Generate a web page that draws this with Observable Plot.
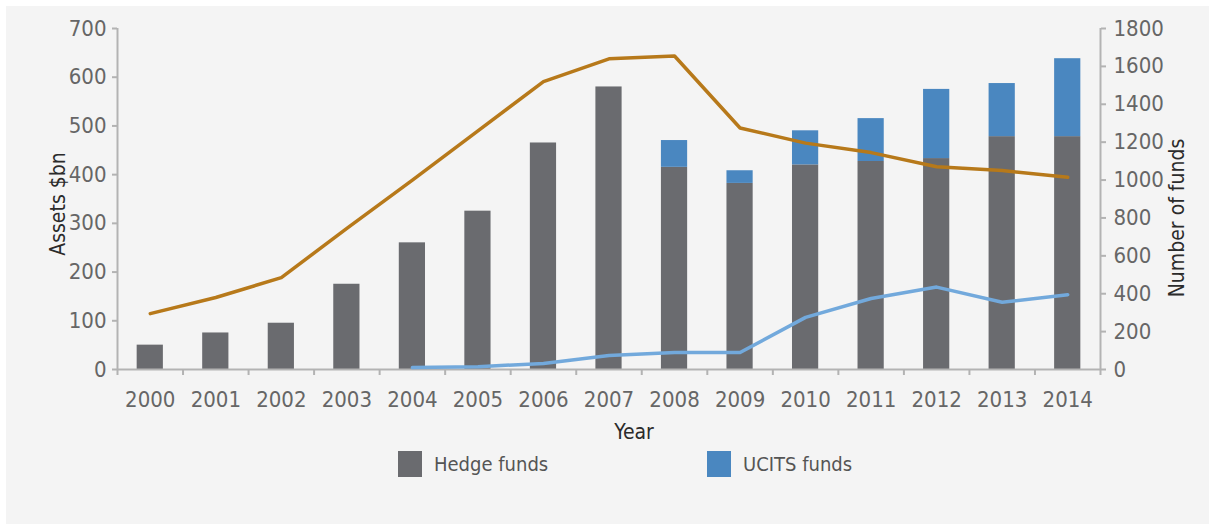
<!DOCTYPE html>
<html>
<head>
<meta charset="utf-8">
<script src="https://cdn.jsdelivr.net/npm/d3@7"></script>
<script src="https://cdn.jsdelivr.net/npm/@observablehq/plot@0.6"></script>
<style>
  html, body { margin: 0; padding: 0; background: #ffffff; }
  #panel { position: absolute; left: 6px; top: 6px; width: 1203px; height: 518px; background: #f4f4f4;
           font-family: "Liberation Sans Narrow", "DejaVu Sans Condensed", "DejaVu Sans", sans-serif; }
  #chart { position: absolute; left: 0; top: 0; }
  .legend { position: absolute; top: 445px; left: 0; width: 100%; height: 30px; }
  .item { position: absolute; top: 0; display: flex; align-items: center; font-size: 20px; color: #555555; }
  .sw { width: 24px; height: 26px; margin-right: 12px; }
</style>
</head>
<body>
<div id="panel">
  <div id="chart"></div>
  <div class="legend">
    <div class="item" style="left:392px"><div class="sw" style="background:#6a6b6f"></div><span>Hedge funds</span></div>
    <div class="item" style="left:701px"><div class="sw" style="background:#4a87c0"></div><span>UCITS funds</span></div>
  </div>
</div>
<script>
const years = [2000, 2001, 2002, 2003, 2004, 2005, 2006, 2007, 2008, 2009, 2010, 2011, 2012, 2013, 2014];
const hedgeAssets = [50, 75, 95, 175, 260, 325, 465, 580, 415, 382, 420, 427, 433, 478, 478];
const ucitsAssets = [0, 0, 0, 0, 0, 0, 0, 0, 55, 26, 70, 88, 142, 109, 160];
const hedgeFundCount = [295, 380, 485, 745, 1000, 1260, 1520, 1640, 1655, 1275, 1195, 1145, 1070, 1050, 1015];
const ucitsFundCount = [null, null, null, null, 10, 15, 32, 74, 90, 90, 275, 375, 435, 355, 395];
const assetTicks = [0, 100, 200, 300, 400, 500, 600, 700];
const countTicks = [0, 200, 400, 600, 800, 1000, 1200, 1400, 1600, 1800];

const assetMax = 700, countMax = 1800;
const toAsset = v => v * assetMax / countMax;
const barHalf = 0.2;
const xDomain = [years[0] - 0.5, years[years.length - 1] + 0.5];
const boundaries = d3.range(xDomain[0], xDomain[1] + 0.01, 1);

const rows = years.map((year, i) => ({
  year, hedge: hedgeAssets[i], ucits: ucitsAssets[i],
  hedgeN: hedgeFundCount[i], ucitsN: ucitsFundCount[i]
}));
const ucitsLineRows = rows.filter(d => d.ucitsN != null);

const axisColor = "#b3b3b3";
const labelColor = "#666666";
const titleColor = "#2b2b2b";
const titleStyle = { fill: titleColor, fontSize: 21, textAnchor: "middle", lineAnchor: "middle" };

const chart = Plot.plot({
  width: 1203,
  height: 450,
  marginLeft: 111,
  marginRight: 109,
  marginTop: 22,
  marginBottom: 87,
  style: { background: "transparent", fontFamily: "'Liberation Sans Narrow', 'DejaVu Sans Condensed', sans-serif", fontSize: "22px", color: labelColor },
  x: { domain: xDomain, axis: null },
  y: { domain: [0, assetMax], axis: null },
  marks: [
    Plot.rectY(rows, { x1: d => d.year - barHalf, x2: d => d.year + barHalf, y1: 0, y2: d => d.hedge, fill: "#6a6b6f" }),
    Plot.rectY(rows.filter(d => d.ucits > 0), { x1: d => d.year - barHalf, x2: d => d.year + barHalf, y1: d => d.hedge, y2: d => d.hedge + d.ucits, fill: "#4a87c0" }),
    Plot.ruleY([0], { stroke: axisColor, strokeWidth: 2 }),
    Plot.ruleX(xDomain, { y1: 0, y2: assetMax, stroke: axisColor, strokeWidth: 2 }),
    Plot.line(rows, { x: "year", y: d => toAsset(d.hedgeN), stroke: "#b7791a", strokeWidth: 3.5 }),
    Plot.line(ucitsLineRows, { x: "year", y: d => toAsset(d.ucitsN), stroke: "#72a9dc", strokeWidth: 3.5 }),
    Plot.axisX({ ticks: boundaries, tickFormat: () => "", tickSize: 6, stroke: axisColor, strokeWidth: 2, label: null }),
    Plot.axisX({ ticks: years, tickFormat: d => String(d), tickSize: 0, tickPadding: 22, fill: labelColor, label: null }),
    Plot.axisY({ ticks: assetTicks, anchor: "left", tickSize: 5, tickPadding: 6, stroke: axisColor, strokeWidth: 2, fill: labelColor, label: null }),
    Plot.axisY(countTicks.map(toAsset), { anchor: "right", tickFormat: d => String(Math.round(d * countMax / assetMax)), tickSize: 5, tickPadding: 8, stroke: axisColor, strokeWidth: 2, fill: labelColor, label: null }),
    Plot.text(["Assets $bn"], { frameAnchor: "left", rotate: -90, dx: -59, dy: 5, ...titleStyle }),
    Plot.text(["Number of funds"], { frameAnchor: "right", rotate: -90, dx: 77, dy: 19, ...titleStyle }),
    Plot.text(["Year"], { frameAnchor: "bottom", dx: 25, dy: 63, ...titleStyle })
  ]
});
document.getElementById("chart").appendChild(chart);
</script>
</body>
</html>
